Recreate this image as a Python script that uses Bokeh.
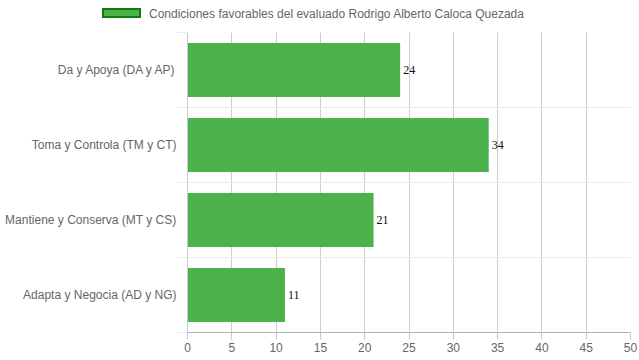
from bokeh.plotting import figure
from bokeh.layouts import column
from bokeh.models import Range1d, FixedTicker, ColumnDataSource, Div
from bokeh.core.properties import value
from bokeh.embed import file_html
from bokeh.resources import INLINE

categories = ["Da y Apoya (DA y AP)", "Toma y Controla (TM y CT)",
              "Mantiene y Conserva (MT y CS)", "Adapta y Negocia (AD y NG)"]
values = [24, 34, 21, 11]
series_name = "Condiciones favorables del evaluado Rodrigo Alberto Caloca Quezada"
x_ticks = [0, 5, 10, 15, 20, 25, 30, 35, 40, 45, 50]

n = len(categories)
centers = [n - i - 0.5 for i in range(n)]
bounds = list(range(n + 1))

BAR = "#4cb34c"
FONT = "Liberation Sans"
W = 639

# ---- legend strip (HTML) above the chart ----
legend_html = (
    '<div style="position:relative;width:%dpx;height:31px;'
    'font-family:\'Liberation Sans\',Arial,sans-serif;font-size:12px;color:#666666;">'
    '<div style="position:absolute;left:102px;top:8px;width:39px;height:10px;'
    'background:%s;border:2px solid #0f7a0f;"></div>'
    '<div style="position:absolute;left:149px;top:7px;line-height:15px;white-space:nowrap;">%s</div>'
    '</div>' % (W, BAR, series_name)
)
lg = Div(text=legend_html, width=W, height=31, margin=(0, 0, 0, 0))

# ---- main chart ----
p = figure(width=W, height=328, output_backend="svg", toolbar_location=None,
           x_range=Range1d(0, 50), y_range=Range1d(0, n),
           min_border_left=187, min_border_right=9,
           min_border_top=1, min_border_bottom=27, margin=(0, 0, 0, 0))
p.outline_line_color = None
p.background_fill_color = "white"

src = ColumnDataSource(dict(y=centers, v=values, lab=[str(v) for v in values]))
p.hbar(y="y", right="v", left=0, height=0.72, source=src,
       fill_color=BAR, line_color=None)
p.text(x="v", y="y", text="lab", source=src, x_offset=3,
       text_baseline="middle", text_align="left",
       text_font=value("Liberation Serif"), text_font_size="12px",
       text_color="#111111")

# x axis
p.xaxis.ticker = FixedTicker(ticks=x_ticks)
p.xaxis.major_tick_out = 7
p.xaxis.major_tick_in = 0
p.xaxis.minor_tick_out = 0
p.xaxis.minor_tick_in = 0
p.xaxis.axis_line_color = "#b0b0b0"
p.xaxis.major_tick_line_color = "#c8c8c8"
p.xaxis.major_label_standoff = 3
p.xaxis.major_label_text_font = FONT
p.xaxis.major_label_text_font_size = "12px"
p.xaxis.major_label_text_color = "#666666"

# y axis
p.yaxis.ticker = FixedTicker(ticks=centers, minor_ticks=bounds)
p.yaxis.major_label_overrides = {c: cat for c, cat in zip(centers, categories)}
p.yaxis.major_tick_out = 0
p.yaxis.major_tick_in = 0
p.yaxis.minor_tick_out = 11
p.yaxis.minor_tick_in = 0
p.yaxis.minor_tick_line_color = "#ebebeb"
p.yaxis.axis_line_color = "#c8c8c8"
p.yaxis.major_label_standoff = 0
p.yaxis.major_label_text_font = FONT
p.yaxis.major_label_text_font_size = "12px"
p.yaxis.major_label_text_color = "#666666"

# grids
p.xgrid.ticker = FixedTicker(ticks=x_ticks)
p.xgrid.grid_line_color = "#cfcfcf"
p.ygrid.ticker = FixedTicker(ticks=bounds)
p.ygrid.grid_line_color = "#ebebeb"

layout = column(lg, p, spacing=0)
open("out.html", "w").write(file_html(layout, INLINE))
